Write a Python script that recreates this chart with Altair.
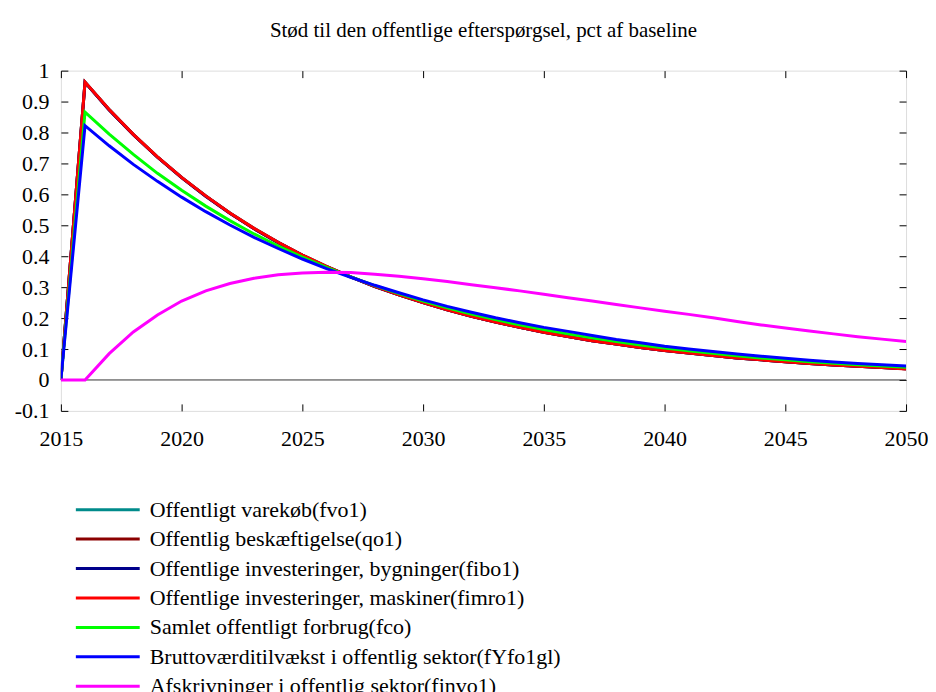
import altair as alt
import pandas as pd

years = list(range(2015, 2051))

# Offentligt varekøb (hidden beneath the red line)
fvo1 = [0, 0.963, 0.874, 0.794, 0.721, 0.655, 0.595, 0.540, 0.490, 0.445,
        0.404, 0.367, 0.333, 0.303, 0.275, 0.250, 0.227, 0.206, 0.187, 0.170,
        0.154, 0.140, 0.127, 0.116, 0.105, 0.095, 0.087, 0.079, 0.071, 0.065,
        0.059, 0.053, 0.048, 0.044, 0.040, 0.036]
qo1 = [0, 0.962, 0.873, 0.793, 0.720, 0.654, 0.594, 0.539, 0.489, 0.444,
       0.403, 0.366, 0.333, 0.302, 0.275, 0.250, 0.227, 0.206, 0.187, 0.170,
       0.154, 0.140, 0.127, 0.116, 0.105, 0.095, 0.087, 0.079, 0.071, 0.065,
       0.059, 0.053, 0.048, 0.044, 0.040, 0.036]
fibo1 = [0, 0.962, 0.873, 0.793, 0.720, 0.654, 0.594, 0.539, 0.489, 0.444,
         0.403, 0.366, 0.333, 0.302, 0.275, 0.250, 0.227, 0.206, 0.187, 0.170,
         0.154, 0.140, 0.127, 0.116, 0.105, 0.095, 0.087, 0.079, 0.071, 0.065,
         0.059, 0.053, 0.048, 0.044, 0.040, 0.036]
fimro1 = [0, 0.963, 0.874, 0.794, 0.721, 0.655, 0.595, 0.540, 0.490, 0.445,
          0.404, 0.367, 0.333, 0.303, 0.275, 0.250, 0.227, 0.206, 0.187, 0.170,
          0.154, 0.140, 0.127, 0.116, 0.105, 0.095, 0.087, 0.079, 0.071, 0.065,
          0.059, 0.053, 0.048, 0.044, 0.040, 0.035]
fco = [0, 0.866, 0.795, 0.729, 0.668, 0.613, 0.562, 0.515, 0.472, 0.433,
       0.397, 0.364, 0.333, 0.305, 0.279, 0.255, 0.233, 0.213, 0.195, 0.178,
       0.163, 0.149, 0.136, 0.124, 0.113, 0.103, 0.094, 0.086, 0.078, 0.071,
       0.065, 0.059, 0.054, 0.049, 0.045, 0.041]
fyfo1gl = [0, 0.822, 0.757, 0.697, 0.642, 0.591, 0.544, 0.501, 0.461, 0.425,
           0.391, 0.360, 0.332, 0.306, 0.282, 0.259, 0.238, 0.219, 0.201, 0.185,
           0.170, 0.157, 0.144, 0.131, 0.120, 0.109, 0.100, 0.092, 0.084, 0.077,
           0.070, 0.064, 0.058, 0.053, 0.049, 0.045]
finvo1 = [0, 0, 0.085, 0.155, 0.210, 0.255, 0.288, 0.312, 0.329, 0.340,
          0.346, 0.348, 0.347, 0.342, 0.335, 0.327, 0.318, 0.308, 0.298, 0.288,
          0.277, 0.266, 0.255, 0.244, 0.233, 0.222, 0.212, 0.201, 0.189, 0.178,
          0.168, 0.158, 0.149, 0.140, 0.132, 0.124]

series_names = [
    "Offentligt varekøb(fvo1)",
    "Offentlig beskæftigelse(qo1)",
    "Offentlige investeringer, bygninger(fibo1)",
    "Offentlige investeringer, maskiner(fimro1)",
    "Samlet offentligt forbrug(fco)",
    "Bruttoværditilvækst i offentlig sektor(fYfo1gl)",
    "Afskrivninger i offentlig sektor(finvo1)",
]
series_values = [fvo1, qo1, fibo1, fimro1, fco, fyfo1gl, finvo1]
series_colors = ["#008b8b", "#8b0000", "#00008b", "#ff0000", "#00ff00", "#0000ff", "#ff00ff"]

x_ticks = [2015, 2020, 2025, 2030, 2035, 2040, 2045, 2050]
y_ticks = [-0.1, 0.0, 0.1, 0.2, 0.3, 0.4, 0.5, 0.6, 0.7, 0.8, 0.9, 1.0]

title_text = "Stød til den offentlige efterspørgsel, pct af baseline"

rows = []
for order, (name, vals) in enumerate(zip(series_names, series_values)):
    for yr, v in zip(years, vals):
        rows.append({"year": yr, "value": v, "series": name, "k": order})
df = pd.DataFrame(rows)

W, H = 847, 341
FONT = "Liberation Serif"
xs = alt.Scale(domain=[2015, 2050], nice=False, zero=False)
ys = alt.Scale(domain=[-0.1, 1.0], nice=False, zero=False)

zero_line = alt.Chart(pd.DataFrame({"v": [0.0]})).mark_rule(
    color="#333333", strokeWidth=1
).encode(y=alt.Y("v:Q", scale=ys, axis=None))

lines = alt.Chart(df).mark_line(strokeWidth=3, clip=True).encode(
    x=alt.X("year:Q", scale=xs, title=None,
            axis=alt.Axis(orient="bottom", values=x_ticks, format="d", ticks=False,
                          grid=False, domain=False, labelFont=FONT, labelFontSize=22,
                          labelColor="black", labelPadding=18, labelFlush=False)),
    y=alt.Y("value:Q", scale=ys, title=None,
            axis=alt.Axis(orient="left", values=y_ticks, ticks=False, grid=False,
                          domain=False, labelFont=FONT, labelFontSize=22,
                          labelColor="black", labelPadding=12, labelFlush=False,
                          labelExpr="toString(datum.value)")),
    color=alt.Color("series:N",
                    scale=alt.Scale(domain=series_names, range=series_colors),
                    legend=alt.Legend(orient="none", legendX=36, legendY=429,
                                      direction="vertical", title=None,
                                      symbolType="M-4,0H4", symbolSize=256,
                                      symbolStrokeWidth=3, labelFont=FONT,
                                      labelFontSize=22, labelColor="black",
                                      labelOffset=31, rowPadding=7.5, padding=0,
                                      labelLimit=1000)),
    detail="k:O",
)

ghost = alt.Chart(df).mark_line(opacity=0)

ticks_bl = ghost.encode(
    x=alt.X("year:Q", scale=xs, title=None,
            axis=alt.Axis(orient="top", offset=-H, values=x_ticks, labels=False,
                          domain=False, grid=False, ticks=True, tickSize=7,
                          tickColor="black")),
    y=alt.Y("value:Q", scale=ys, title=None,
            axis=alt.Axis(orient="right", offset=-W, values=y_ticks, labels=False,
                          domain=False, grid=False, ticks=True, tickSize=7,
                          tickColor="black")),
)
ticks_tr = ghost.encode(
    x=alt.X("year:Q", scale=xs, title=None,
            axis=alt.Axis(orient="bottom", offset=-H, values=x_ticks, labels=False,
                          domain=False, grid=False, ticks=True, tickSize=7,
                          tickColor="black")),
    y=alt.Y("value:Q", scale=ys, title=None,
            axis=alt.Axis(orient="left", offset=-W, values=y_ticks, labels=False,
                          domain=False, grid=False, ticks=True, tickSize=7,
                          tickColor="black")),
)

chart = alt.layer(zero_line, lines, ticks_bl, ticks_tr).resolve_axis(
    x="independent", y="independent"
).properties(
    width=W, height=H,
    autosize=alt.AutoSizeParams(type="none"),
    padding={"left": 53, "top": 62, "right": 22, "bottom": 300},
    title=alt.TitleParams(title_text, font=FONT, fontSize=21, fontWeight="normal",
                          color="black", anchor="middle", baseline="alphabetic",
                          offset=2),
).configure_view(stroke="black", strokeWidth=1).configure_axis(
    labelFont=FONT
).configure_legend(labelFont=FONT).configure_title(font=FONT).configure(
    background="white"
)

chart.save("out.html", embed_options={"renderer": "svg", "actions": False})
